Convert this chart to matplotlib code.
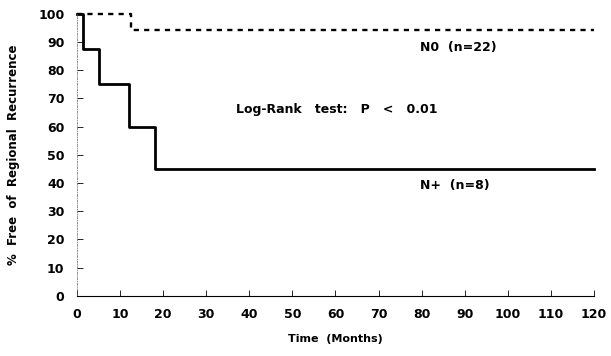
import matplotlib.pyplot as plt

plt.rcParams['font.family'] = 'DejaVu Sans'
plt.rcParams['font.weight'] = 'bold'

# Kaplan-Meier steps
n0_t = [0, 12.5, 120]
n0_s = [100, 94.4, 94.4]
np_t = [0, 1.5, 5, 12, 18, 120]
np_s = [100, 87.5, 75, 60, 45, 45]

xticks = list(range(0, 121, 10))
yticks = list(range(0, 101, 10))

fig = plt.figure(figsize=(6.11, 3.56), dpi=100)
ax = fig.add_axes([0.126, 0.169, 0.846, 0.792])

ax.step(n0_t, n0_s, where='post', color='black', lw=1.7, linestyle=(0, (2.2, 2.2)), clip_on=False)
ax.step(np_t, np_s, where='post', color='black', lw=2.0, clip_on=False)

ax.set_xlim(0, 120)
ax.set_ylim(0, 100)
ax.set_xticks(xticks)
ax.set_yticks(yticks)
ax.tick_params(direction='in', length=4, width=0.6, labelsize=9, pad=9)
for lab in ax.get_xticklabels() + ax.get_yticklabels():
    lab.set_fontweight('bold')

ax.spines['top'].set_visible(False)
ax.spines['right'].set_visible(False)
ax.spines['left'].set_linestyle((0, (3, 2, 1, 2)))
ax.spines['left'].set_linewidth(0.5)
ax.spines['left'].set_color('#666666')
ax.spines['bottom'].set_linewidth(0.8)

ax.set_xlabel('Time  (Months)', fontsize=8, fontweight='bold', labelpad=9)
ax.set_ylabel('%  Free  of  Regional  Recurrence', fontsize=8.5, fontweight='bold', labelpad=13)

ax.text(60.3, 66, 'Log-Rank   test:   P   <   0.01', fontsize=9, fontweight='bold', ha='center', va='center')
ax.text(79.6, 88, 'N0  (n=22)', fontsize=9, fontweight='bold', ha='left', va='center')
ax.text(79.6, 39, 'N+  (n=8)', fontsize=9, fontweight='bold', ha='left', va='center')

fig.savefig('out.png', dpi=100)
